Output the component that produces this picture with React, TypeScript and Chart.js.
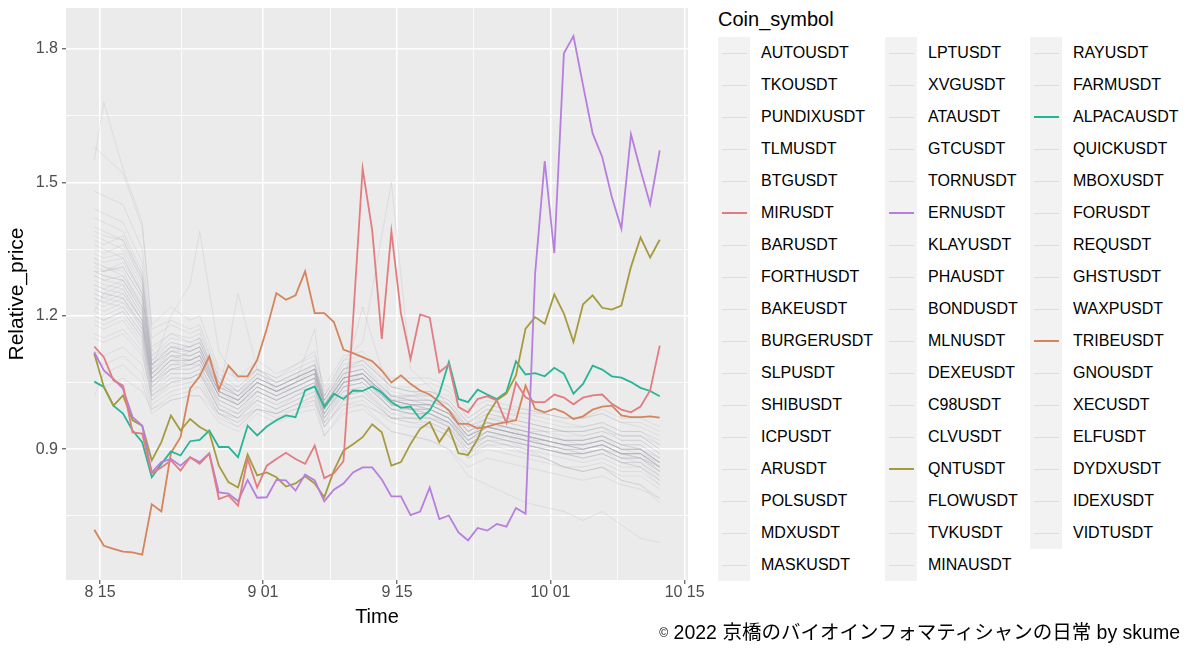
import React, { useEffect, useRef } from 'react';
import { Chart, registerables } from 'chart.js';

Chart.register(...registerables);

const FONT = '"Liberation Sans", Arial, Helvetica, sans-serif';

// time axis: days after 15 Aug (first observation is ~0.6 day before 8/15), one observation per day
const START_DAY = -0.6;
const TICK_DAYS = [0, 17, 31, 47, 61];
const TICK_LABELS = ['8 15', '9 01', '9 15', '10 01', '10 15'];
const MINOR_DAYS = [8.5, 24, 39, 54];
const Y_MAJOR = [0.9, 1.2, 1.5, 1.8];
const Y_MINOR = [0.75, 1.05, 1.35, 1.65];

// highlighted coins (daily)
const MIRUSDT = [1.131, 1.107, 1.055, 1.043, 0.938, 0.935, 0.846, 0.859, 0.875, 0.852, 0.882, 0.867, 0.890, 0.788, 0.796, 0.773, 0.878, 0.814, 0.863, 0.878, 0.892, 0.878, 0.867, 0.908, 0.835, 0.846, 0.873, 1.190, 1.531, 1.392, 1.148, 1.390, 1.205, 1.103, 1.203, 1.196, 1.073, 1.091, 0.995, 0.983, 1.013, 1.019, 1.010, 0.959, 1.050, 1.017, 1.006, 1.006, 1.023, 1.016, 1.001, 1.016, 1.021, 1.023, 1.002, 0.989, 0.983, 0.996, 1.032, 1.133];
const ERNUSDT = [1.118, 1.077, 1.058, 1.036, 0.972, 0.953, 0.848, 0.871, 0.878, 0.863, 0.882, 0.871, 0.891, 0.803, 0.800, 0.783, 0.831, 0.791, 0.792, 0.831, 0.830, 0.807, 0.843, 0.830, 0.783, 0.809, 0.823, 0.848, 0.859, 0.859, 0.832, 0.794, 0.794, 0.752, 0.760, 0.814, 0.743, 0.751, 0.713, 0.695, 0.723, 0.717, 0.732, 0.726, 0.768, 0.755, 1.295, 1.548, 1.341, 1.790, 1.829, 1.718, 1.610, 1.557, 1.467, 1.396, 1.608, 1.527, 1.451, 1.572];
const QNTUSDT = [1.115, 1.040, 0.998, 1.021, 0.965, 0.953, 0.875, 0.916, 0.976, 0.942, 0.968, 0.950, 0.938, 0.863, 0.826, 0.814, 0.888, 0.841, 0.848, 0.837, 0.816, 0.823, 0.839, 0.823, 0.792, 0.852, 0.897, 0.911, 0.927, 0.956, 0.938, 0.863, 0.871, 0.912, 0.946, 0.961, 0.916, 0.948, 0.891, 0.887, 0.923, 0.976, 1.010, 1.025, 1.066, 1.171, 1.197, 1.182, 1.248, 1.205, 1.141, 1.226, 1.246, 1.218, 1.214, 1.223, 1.310, 1.376, 1.331, 1.371];
const ALPACAUSDT = [1.052, 1.040, 0.998, 0.980, 0.942, 0.916, 0.837, 0.867, 0.895, 0.886, 0.918, 0.921, 0.942, 0.905, 0.905, 0.882, 0.953, 0.931, 0.951, 0.965, 0.976, 0.972, 1.032, 1.041, 0.995, 1.025, 1.013, 1.032, 1.031, 1.041, 1.027, 1.006, 0.993, 0.996, 0.968, 0.987, 1.025, 1.096, 1.013, 1.006, 1.034, 1.023, 1.013, 1.028, 1.098, 1.068, 1.071, 1.064, 1.083, 1.070, 1.025, 1.047, 1.088, 1.079, 1.064, 1.061, 1.051, 1.038, 1.031, 1.019];
const TRIBEUSDT = [0.719, 0.683, 0.676, 0.670, 0.668, 0.663, 0.776, 0.760, 0.892, 0.927, 1.036, 1.064, 1.109, 1.034, 1.088, 1.064, 1.064, 1.101, 1.171, 1.251, 1.236, 1.246, 1.300, 1.206, 1.206, 1.186, 1.124, 1.116, 1.107, 1.098, 1.077, 1.050, 1.066, 1.047, 1.032, 1.023, 1.006, 0.987, 0.957, 0.957, 0.947, 0.951, 0.957, 0.961, 0.965, 1.043, 0.991, 0.983, 0.991, 0.983, 0.968, 0.974, 0.989, 0.996, 0.998, 0.976, 0.972, 0.972, 0.974, 0.971];

// background coins, read at these observation indices
const GRAY_IDX = [0, 1, 3, 5, 6, 8, 10, 11, 13, 15, 17, 19, 21, 23, 24, 26, 28, 31, 33, 35, 37, 39, 41, 43, 45, 47, 49, 51, 53, 55, 57, 59];
const AUTOUSDT = [1.33, 1.31, 1.30, 1.22, 1.07, 1.12, 1.11, 1.12, 1.03, 1.01, 1.05, 1.03, 1.05, 1.07, 1.00, 1.07, 1.08, 1.02, 1.01, 1.01, 0.99, 0.94, 0.97, 0.96, 0.95, 0.94, 0.93, 0.93, 0.94, 0.92, 0.92, 0.89];
const TKOUSDT = [1.25, 1.24, 1.26, 1.19, 1.04, 1.08, 1.09, 1.09, 1.00, 0.98, 1.03, 1.01, 1.03, 1.05, 0.97, 1.04, 1.05, 0.99, 0.99, 0.98, 0.96, 0.91, 0.94, 0.93, 0.92, 0.91, 0.90, 0.89, 0.90, 0.88, 0.88, 0.85];
const PUNDIXUSDT = [1.55, 1.68, 1.53, 1.41, 1.18, 1.22, 1.19, 1.20, 1.08, 1.06, 1.10, 1.07, 1.09, 1.12, 1.03, 1.10, 1.11, 1.04, 1.03, 1.02, 1.00, 0.95, 0.97, 0.96, 0.95, 0.94, 0.92, 0.92, 0.93, 0.90, 0.90, 0.86];
const TLMUSDT = [1.20, 1.19, 1.21, 1.15, 1.02, 1.05, 1.06, 1.07, 0.99, 0.97, 1.01, 0.99, 1.02, 1.04, 0.97, 1.03, 1.04, 0.98, 0.97, 0.97, 0.95, 0.90, 0.93, 0.92, 0.91, 0.90, 0.89, 0.89, 0.90, 0.88, 0.87, 0.84];
const BTGUSDT = [1.05, 1.04, 1.06, 1.03, 0.99, 1.01, 1.02, 1.02, 0.98, 0.97, 0.99, 0.98, 0.99, 1.00, 0.96, 1.00, 1.00, 0.97, 0.97, 0.97, 0.96, 0.93, 0.95, 0.95, 0.94, 0.94, 0.94, 0.93, 0.94, 0.93, 0.93, 0.91];
const BARUSDT = [1.38, 1.37, 1.35, 1.27, 1.10, 1.14, 1.13, 1.14, 1.05, 1.02, 1.07, 1.05, 1.07, 1.09, 1.01, 1.08, 1.09, 1.03, 1.02, 1.02, 1.00, 0.95, 0.98, 0.97, 0.96, 0.95, 0.94, 0.94, 0.95, 0.93, 0.93, 0.90];
const FORTHUSDT = [1.30, 1.29, 1.28, 1.21, 1.06, 1.10, 1.12, 1.13, 1.04, 1.03, 1.06, 1.04, 1.06, 1.08, 1.01, 1.08, 1.10, 1.04, 1.04, 1.05, 1.03, 0.97, 1.00, 0.99, 0.98, 0.97, 0.96, 0.95, 0.96, 0.94, 0.94, 0.91];
const BAKEUSDT = [1.22, 1.21, 1.23, 1.17, 1.03, 1.07, 1.07, 1.08, 0.99, 0.97, 1.02, 1.00, 1.02, 1.04, 0.96, 1.03, 1.04, 0.97, 0.97, 0.96, 0.94, 0.88, 0.91, 0.90, 0.89, 0.88, 0.86, 0.86, 0.87, 0.85, 0.85, 0.82];
const BURGERUSDT = [1.35, 1.34, 1.36, 1.28, 1.09, 1.13, 1.12, 1.13, 1.03, 1.00, 1.05, 1.03, 1.05, 1.07, 0.99, 1.05, 1.06, 0.99, 0.98, 0.98, 0.96, 0.91, 0.93, 0.92, 0.91, 0.90, 0.89, 0.88, 0.89, 0.87, 0.86, 0.83];
const SLPUSDT = [1.27, 1.26, 1.25, 1.19, 1.06, 1.10, 1.09, 1.10, 1.02, 1.00, 1.03, 1.01, 1.03, 1.05, 0.98, 1.05, 1.06, 1.00, 0.99, 0.99, 0.97, 0.92, 0.95, 0.94, 0.93, 0.91, 0.90, 0.90, 0.91, 0.89, 0.89, 0.86];
const SHIBUSDT = [1.16, 1.15, 1.17, 1.12, 1.01, 1.04, 1.05, 1.05, 0.98, 0.96, 1.00, 0.98, 1.00, 1.02, 0.95, 1.01, 1.02, 0.97, 0.96, 0.96, 0.94, 0.90, 0.92, 0.92, 0.91, 0.90, 0.89, 0.89, 0.90, 0.88, 0.88, 0.86];
const ICPUSDT = [1.42, 1.41, 1.39, 1.30, 1.12, 1.16, 1.15, 1.16, 1.06, 1.03, 1.08, 1.06, 1.08, 1.10, 1.02, 1.08, 1.09, 1.02, 1.01, 1.00, 0.98, 0.92, 0.95, 0.94, 0.92, 0.91, 0.89, 0.89, 0.90, 0.87, 0.87, 0.83];
const ARUSDT = [1.29, 1.28, 1.29, 1.23, 1.08, 1.12, 1.13, 1.15, 1.05, 1.04, 1.08, 1.06, 1.09, 1.11, 1.04, 1.11, 1.12, 1.06, 1.06, 1.06, 1.04, 0.99, 1.01, 1.00, 0.99, 0.98, 0.97, 0.97, 0.98, 0.96, 0.96, 0.94];
const POLSUSDT = [1.32, 1.30, 1.31, 1.24, 1.08, 1.20, 1.27, 1.39, 1.12, 1.05, 1.08, 1.05, 1.06, 1.08, 1.00, 1.06, 1.07, 1.01, 1.00, 1.00, 0.98, 0.93, 0.95, 0.94, 0.93, 0.92, 0.91, 0.91, 0.92, 0.90, 0.90, 0.87];
const MDXUSDT = [1.24, 1.23, 1.22, 1.16, 1.04, 1.08, 1.08, 1.09, 1.01, 0.99, 1.03, 1.01, 1.03, 1.04, 0.97, 1.04, 1.05, 0.99, 0.98, 0.98, 0.95, 0.89, 0.92, 0.91, 0.90, 0.88, 0.86, 0.85, 0.86, 0.83, 0.82, 0.78];
const MASKUSDT = [1.48, 1.47, 1.45, 1.35, 1.15, 1.18, 1.16, 1.17, 1.06, 1.03, 1.07, 1.04, 1.06, 1.08, 1.00, 1.06, 1.07, 1.00, 0.99, 0.99, 0.97, 0.92, 0.94, 0.93, 0.92, 0.91, 0.90, 0.90, 0.91, 0.89, 0.88, 0.85];
const LPTUSDT = [1.26, 1.25, 1.27, 1.20, 1.07, 1.11, 1.11, 1.12, 1.03, 1.01, 1.05, 1.03, 1.05, 1.07, 1.00, 1.06, 1.07, 1.01, 1.00, 1.00, 0.98, 0.94, 0.96, 0.95, 0.94, 0.93, 0.92, 0.92, 0.93, 0.91, 0.91, 0.88];
const XVGUSDT = [1.36, 1.35, 1.33, 1.25, 1.09, 1.13, 1.12, 1.13, 1.03, 1.01, 1.06, 1.04, 1.06, 1.09, 1.01, 1.08, 1.10, 1.04, 1.03, 1.03, 1.01, 0.96, 0.98, 0.97, 0.96, 0.95, 0.94, 0.94, 0.95, 0.92, 0.92, 0.89];
const ATAUSDT = [1.18, 1.17, 1.19, 1.13, 1.01, 1.05, 1.05, 1.06, 0.98, 0.95, 0.99, 0.97, 0.99, 1.01, 0.93, 0.99, 1.00, 0.94, 0.93, 0.92, 0.90, 0.84, 0.82, 0.80, 0.78, 0.77, 0.76, 0.74, 0.76, 0.73, 0.70, 0.69];
const GTCUSDT = [1.31, 1.30, 1.32, 1.25, 1.09, 1.12, 1.11, 1.12, 1.04, 1.02, 1.06, 1.04, 1.06, 1.08, 1.01, 1.07, 1.08, 1.02, 1.02, 1.01, 0.99, 0.94, 0.96, 0.95, 0.94, 0.93, 0.92, 0.91, 0.92, 0.90, 0.90, 0.87];
const TORNUSDT = [1.21, 1.20, 1.22, 1.16, 1.04, 1.07, 1.07, 1.08, 1.00, 0.98, 1.02, 1.00, 1.02, 1.04, 0.98, 1.04, 1.06, 1.01, 1.02, 1.03, 1.02, 0.97, 1.00, 0.99, 0.99, 0.98, 0.97, 0.97, 0.98, 0.96, 0.95, 0.93];
const KLAYUSDT = [1.39, 1.38, 1.37, 1.29, 1.11, 1.15, 1.14, 1.15, 1.05, 1.02, 1.06, 1.04, 1.06, 1.08, 1.00, 1.06, 1.07, 1.00, 0.99, 0.98, 0.96, 0.90, 0.93, 0.92, 0.90, 0.89, 0.88, 0.87, 0.88, 0.86, 0.86, 0.82];
const PHAUSDT = [1.28, 1.27, 1.26, 1.19, 1.06, 1.09, 1.09, 1.10, 1.02, 1.00, 1.04, 1.02, 1.04, 1.06, 0.99, 1.05, 1.06, 1.00, 1.00, 0.99, 0.97, 0.93, 0.95, 0.94, 0.93, 0.92, 0.91, 0.91, 0.92, 0.90, 0.90, 0.87];
const BONDUSDT = [1.12, 1.11, 1.13, 1.09, 1.00, 1.03, 1.04, 1.04, 0.98, 0.96, 0.99, 0.98, 1.00, 1.01, 0.95, 1.00, 1.01, 0.96, 0.95, 0.95, 0.93, 0.89, 0.91, 0.91, 0.90, 0.90, 0.89, 0.89, 0.90, 0.89, 0.88, 0.86];
const MLNUSDT = [1.34, 1.33, 1.34, 1.26, 1.09, 1.13, 1.13, 1.14, 1.05, 1.03, 1.07, 1.05, 1.07, 1.09, 1.02, 1.09, 1.10, 1.04, 1.03, 1.03, 1.01, 0.96, 0.99, 0.98, 0.97, 0.96, 0.95, 0.95, 0.96, 0.94, 0.94, 0.92];
const DEXEUSDT = [1.23, 1.22, 1.24, 1.18, 1.05, 1.09, 1.10, 1.11, 1.03, 1.01, 1.05, 1.03, 1.05, 1.07, 0.99, 1.06, 1.07, 1.01, 1.00, 1.00, 0.98, 0.93, 0.95, 0.94, 0.93, 0.92, 0.91, 0.90, 0.91, 0.89, 0.89, 0.85];
const C98USDT = [1.30, 1.29, 1.28, 1.22, 1.07, 1.11, 1.10, 1.11, 1.03, 1.01, 1.05, 1.03, 1.05, 1.08, 1.02, 1.10, 1.14, 1.50, 1.08, 1.04, 1.00, 0.94, 0.96, 0.95, 0.93, 0.92, 0.91, 0.90, 0.91, 0.89, 0.88, 0.85];
const CLVUSDT = [1.44, 1.43, 1.41, 1.32, 1.13, 1.16, 1.14, 1.15, 1.05, 1.02, 1.06, 1.04, 1.06, 1.08, 1.00, 1.06, 1.07, 1.01, 1.00, 0.99, 0.97, 0.91, 0.94, 0.93, 0.91, 0.90, 0.89, 0.88, 0.89, 0.87, 0.86, 0.83];
const FLOWUSDT = [1.19, 1.18, 1.20, 1.14, 1.03, 1.06, 1.06, 1.07, 0.99, 0.98, 1.01, 0.99, 1.01, 1.03, 0.97, 1.02, 1.03, 0.98, 0.98, 0.98, 0.96, 0.92, 0.94, 0.93, 0.92, 0.92, 0.91, 0.91, 0.92, 0.90, 0.90, 0.88];
const TVKUSDT = [1.27, 1.26, 1.28, 1.21, 1.07, 1.11, 1.10, 1.11, 1.02, 1.00, 1.04, 1.02, 1.04, 1.06, 0.98, 1.05, 1.06, 1.00, 0.99, 0.99, 0.97, 0.91, 0.94, 0.93, 0.92, 0.91, 0.90, 0.89, 0.90, 0.88, 0.88, 0.84];
const MINAUSDT = [1.33, 1.32, 1.33, 1.25, 1.09, 1.12, 1.12, 1.13, 1.04, 1.02, 1.05, 1.03, 1.05, 1.07, 1.00, 1.06, 1.07, 1.01, 1.00, 1.00, 0.98, 0.93, 0.96, 0.95, 0.94, 0.93, 0.92, 0.92, 0.93, 0.91, 0.91, 0.88];
const RAYUSDT = [1.25, 1.24, 1.23, 1.18, 1.05, 1.08, 1.08, 1.09, 1.01, 0.99, 1.03, 1.01, 1.03, 1.05, 0.98, 1.04, 1.05, 0.99, 0.99, 0.98, 0.96, 0.91, 0.94, 0.93, 0.92, 0.91, 0.90, 0.90, 0.91, 0.89, 0.89, 0.86];
const FARMUSDT = [1.58, 1.56, 1.52, 1.40, 1.17, 1.19, 1.17, 1.18, 1.07, 1.04, 1.08, 1.05, 1.07, 1.09, 1.01, 1.07, 1.08, 1.01, 1.00, 1.00, 0.98, 0.93, 0.95, 0.94, 0.93, 0.92, 0.91, 0.91, 0.92, 0.90, 0.89, 0.86];
const QUICKUSDT = [1.29, 1.28, 1.27, 1.20, 1.06, 1.10, 1.10, 1.11, 1.02, 1.00, 1.04, 1.02, 1.04, 1.06, 0.99, 1.05, 1.07, 1.01, 1.01, 1.00, 0.98, 0.93, 0.96, 0.95, 0.94, 0.93, 0.92, 0.92, 0.93, 0.91, 0.90, 0.87];
const MBOXUSDT = [1.10, 1.09, 1.11, 1.07, 0.99, 1.02, 1.03, 1.04, 0.97, 0.95, 0.99, 0.98, 1.00, 1.02, 0.95, 1.01, 1.02, 0.97, 0.97, 0.97, 0.95, 0.91, 0.93, 0.93, 0.92, 0.91, 0.90, 0.90, 0.91, 0.89, 0.89, 0.87];
const FORUSDT = [1.37, 1.36, 1.38, 1.29, 1.11, 1.14, 1.13, 1.14, 1.04, 1.02, 1.06, 1.04, 1.06, 1.08, 1.00, 1.07, 1.08, 1.02, 1.01, 1.01, 0.99, 0.94, 0.96, 0.95, 0.94, 0.93, 0.92, 0.92, 0.93, 0.91, 0.90, 0.87];
const REQUSDT = [1.21, 1.25, 1.24, 1.17, 1.05, 1.08, 1.09, 1.10, 1.02, 1.25, 1.08, 1.03, 1.04, 1.06, 0.98, 1.04, 1.05, 0.99, 0.98, 0.98, 0.96, 0.91, 0.93, 0.92, 0.91, 0.90, 0.89, 0.88, 0.89, 0.87, 0.87, 0.84];
const GHSTUSDT = [1.30, 1.30, 1.31, 1.24, 1.08, 1.11, 1.11, 1.12, 1.03, 1.01, 1.05, 1.03, 1.05, 1.17, 1.00, 1.06, 1.07, 1.01, 1.00, 1.00, 0.98, 0.93, 0.95, 0.94, 0.93, 0.92, 0.91, 0.91, 0.92, 0.90, 0.90, 0.87];
const WAXPUSDT = [1.26, 1.25, 1.24, 1.18, 1.05, 1.09, 1.09, 1.10, 1.02, 1.00, 1.04, 1.02, 1.04, 1.06, 0.99, 1.05, 1.22, 1.01, 1.00, 0.99, 0.97, 0.92, 0.95, 0.94, 0.93, 0.92, 0.91, 0.90, 0.91, 0.89, 0.89, 0.86];
const GNOUSDT = [1.15, 1.14, 1.16, 1.11, 1.02, 1.05, 1.06, 1.07, 1.01, 0.99, 1.03, 1.01, 1.03, 1.05, 0.99, 1.05, 1.06, 1.02, 1.02, 1.02, 1.00, 0.96, 0.99, 0.98, 0.98, 0.98, 0.97, 0.97, 0.99, 0.97, 0.97, 0.95];
const XECUSDT = [1.40, 1.39, 1.37, 1.28, 1.10, 1.13, 1.12, 1.13, 1.04, 1.01, 1.05, 1.03, 1.05, 1.07, 0.99, 1.05, 1.06, 0.99, 0.98, 0.97, 0.95, 0.89, 0.92, 0.91, 0.89, 0.88, 0.86, 0.85, 0.86, 0.83, 0.82, 0.79];
const ELFUSDT = [1.24, 1.23, 1.25, 1.19, 1.06, 1.10, 1.10, 1.11, 1.03, 1.01, 1.05, 1.03, 1.05, 1.07, 1.00, 1.06, 1.07, 1.01, 1.01, 1.01, 0.99, 0.95, 0.97, 0.97, 0.96, 0.95, 0.94, 0.94, 0.95, 0.93, 0.93, 0.90];
const DYDXUSDT = [1.32, 1.31, 1.29, 1.22, 1.07, 1.10, 1.10, 1.11, 1.02, 1.00, 1.04, 1.02, 1.04, 1.06, 0.99, 1.05, 1.06, 1.00, 0.99, 0.99, 0.97, 0.92, 0.95, 0.94, 0.93, 0.92, 0.91, 0.90, 0.91, 0.89, 0.89, 0.86];
const IDEXUSDT = [1.02, 1.07, 1.09, 1.05, 0.98, 1.01, 1.02, 1.02, 0.96, 0.94, 0.98, 0.96, 0.98, 0.99, 0.93, 0.98, 0.99, 0.94, 0.93, 0.92, 0.90, 0.86, 0.88, 0.87, 0.86, 0.85, 0.84, 0.83, 0.84, 0.82, 0.81, 0.79];
const VIDTUSDT = [1.20, 1.19, 1.21, 1.15, 1.02, 1.06, 1.06, 1.07, 0.99, 0.97, 1.01, 0.99, 1.01, 1.03, 0.96, 1.02, 1.03, 0.97, 0.96, 0.95, 0.93, 0.88, 0.90, 0.89, 0.88, 0.87, 0.86, 0.85, 0.86, 0.84, 0.84, 0.81];

// legend columns (as in the reference)
const LEGEND_COL1 = ['AUTOUSDT', 'TKOUSDT', 'PUNDIXUSDT', 'TLMUSDT', 'BTGUSDT', 'MIRUSDT', 'BARUSDT', 'FORTHUSDT', 'BAKEUSDT', 'BURGERUSDT', 'SLPUSDT', 'SHIBUSDT', 'ICPUSDT', 'ARUSDT', 'POLSUSDT', 'MDXUSDT', 'MASKUSDT'];
const LEGEND_COL2 = ['LPTUSDT', 'XVGUSDT', 'ATAUSDT', 'GTCUSDT', 'TORNUSDT', 'ERNUSDT', 'KLAYUSDT', 'PHAUSDT', 'BONDUSDT', 'MLNUSDT', 'DEXEUSDT', 'C98USDT', 'CLVUSDT', 'QNTUSDT', 'FLOWUSDT', 'TVKUSDT', 'MINAUSDT'];
const LEGEND_COL3 = ['RAYUSDT', 'FARMUSDT', 'ALPACAUSDT', 'QUICKUSDT', 'MBOXUSDT', 'FORUSDT', 'REQUSDT', 'GHSTUSDT', 'WAXPUSDT', 'TRIBEUSDT', 'GNOUSDT', 'XECUSDT', 'ELFUSDT', 'DYDXUSDT', 'IDEXUSDT', 'VIDTUSDT'];

const HIGHLIGHT: Record<string, number[]> = { MIRUSDT, ERNUSDT, QNTUSDT, ALPACAUSDT, TRIBEUSDT };
const HIGHLIGHT_COLORS: Record<string, string> = {
  MIRUSDT: '#E27C80',
  ERNUSDT: '#B77EDE',
  QNTUSDT: '#A59B3E',
  ALPACAUSDT: '#27B596',
  TRIBEUSDT: '#D5845C',
};
const GRAY_SERIES: Record<string, number[]> = {
  AUTOUSDT, TKOUSDT, PUNDIXUSDT, TLMUSDT, BTGUSDT, BARUSDT, FORTHUSDT, BAKEUSDT, BURGERUSDT, SLPUSDT, SHIBUSDT, ICPUSDT, ARUSDT, POLSUSDT, MDXUSDT, MASKUSDT,
  LPTUSDT, XVGUSDT, ATAUSDT, GTCUSDT, TORNUSDT, KLAYUSDT, PHAUSDT, BONDUSDT, MLNUSDT, DEXEUSDT, C98USDT, CLVUSDT, FLOWUSDT, TVKUSDT, MINAUSDT,
  RAYUSDT, FARMUSDT, QUICKUSDT, MBOXUSDT, FORUSDT, REQUSDT, GHSTUSDT, WAXPUSDT, GNOUSDT, XECUSDT, ELFUSDT, DYDXUSDT, IDEXUSDT, VIDTUSDT,
};

const panelBg = {
  id: 'panelBg',
  beforeDraw(chart: any) {
    const { ctx, chartArea } = chart;
    if (!chartArea) return;
    ctx.save();
    ctx.fillStyle = '#EBEBEB';
    ctx.fillRect(chartArea.left, chartArea.top, chartArea.right - chartArea.left, chartArea.bottom - chartArea.top);
    ctx.restore();
  },
};

export default function App() {
  const ref = useRef<HTMLCanvasElement>(null);

  useEffect(() => {
    if (!ref.current) return;
    const datasets: any[] = [];
    Object.keys(HIGHLIGHT).forEach((name) => {
      datasets.push({
        label: name,
        data: HIGHLIGHT[name].map((v, i) => ({ x: START_DAY + i, y: v })),
        borderColor: HIGHLIGHT_COLORS[name],
        borderWidth: 1.8,
        pointRadius: 0,
        tension: 0,
        order: 0,
      });
    });
    Object.keys(GRAY_SERIES).forEach((name) => {
      datasets.push({
        label: name,
        data: GRAY_SERIES[name].map((v, k) => ({ x: START_DAY + GRAY_IDX[k], y: v })),
        borderColor: 'rgba(160,160,176,0.2)',
        borderWidth: 1,
        pointRadius: 0,
        tension: 0,
        order: 1,
      });
    });

    const xIsMajor = (v: number) => TICK_DAYS.includes(v);
    const yIsMajor = (v: number) => Y_MAJOR.some((m) => Math.abs(m - v) < 1e-9);

    const chart = new Chart(ref.current, {
      type: 'line',
      data: { datasets },
      plugins: [panelBg],
      options: {
        animation: false,
        responsive: false,
        events: [],
        layout: { padding: { top: 8, right: 22, left: 0, bottom: 0 } },
        plugins: { legend: { display: false }, tooltip: { enabled: false } },
        scales: {
          x: {
            type: 'linear',
            min: -3.55,
            max: 61.35,
            afterBuildTicks: (s: any) => {
              s.ticks = [...TICK_DAYS, ...MINOR_DAYS].sort((a, b) => a - b).map((v) => ({ value: v }));
            },
            afterFit: (s: any) => {
              s.height = 87;
              s.paddingLeft = 0;
              s.paddingRight = 0;
            },
            ticks: {
              autoSkip: false,
              maxRotation: 0,
              minRotation: 0,
              color: '#4D4D4D',
              padding: -1,
              font: { family: FONT, size: 16 },
              callback: (v: any) => {
                const i = TICK_DAYS.indexOf(Number(v));
                return i >= 0 ? TICK_LABELS[i] : '';
              },
            },
            grid: {
              color: '#FFFFFF',
              lineWidth: (c: any) => (c.tick && xIsMajor(c.tick.value) ? 1.6 : 0.8),
              tickColor: (c: any) => (c.tick && xIsMajor(c.tick.value) ? '#333333' : 'rgba(0,0,0,0)'),
              tickLength: 4,
              tickWidth: 1,
            },
            border: { display: false },
            title: { display: true, text: 'Time', color: '#000', font: { family: FONT, size: 20 }, padding: { top: 0, bottom: 38 } },
          },
          y: {
            type: 'linear',
            min: 0.606,
            max: 1.892,
            afterBuildTicks: (s: any) => {
              s.ticks = [...Y_MAJOR, ...Y_MINOR].sort((a, b) => a - b).map((v) => ({ value: v }));
            },
            afterFit: (s: any) => {
              s.width = 66;
              s.paddingTop = 0;
              s.paddingBottom = 0;
            },
            ticks: {
              autoSkip: false,
              color: '#4D4D4D',
              padding: 4,
              font: { family: FONT, size: 16 },
              callback: (v: any) => (yIsMajor(Number(v)) ? Number(v).toFixed(1) : ''),
            },
            grid: {
              color: '#FFFFFF',
              lineWidth: (c: any) => (c.tick && yIsMajor(c.tick.value) ? 1.6 : 0.8),
              tickColor: (c: any) => (c.tick && yIsMajor(c.tick.value) ? '#333333' : 'rgba(0,0,0,0)'),
              tickLength: 4,
              tickWidth: 1,
            },
            border: { display: false },
            title: { display: true, text: 'Relative_price', color: '#000', font: { family: FONT, size: 21 }, padding: { top: 5, bottom: 0 } },
          },
        },
      } as any,
    });
    return () => chart.destroy();
  }, []);

  const columns = [LEGEND_COL1, LEGEND_COL2, LEGEND_COL3];
  const colLeft = [718, 885, 1030];

  return (
    <div style={{ position: 'absolute', left: 0, top: 0, width: 1200, height: 667, background: '#FFFFFF', overflow: 'hidden', fontFamily: FONT }}>
      <canvas ref={ref} width={710} height={667} style={{ position: 'absolute', left: 0, top: 0, width: 710, height: 667, display: 'block' }} />
      <div style={{ position: 'absolute', left: 718, top: 7, fontSize: 20, lineHeight: '24px', color: '#000', whiteSpace: 'nowrap' }}>Coin_symbol</div>
      {columns.map((col, c) => (
        <div key={c} style={{ position: 'absolute', left: colLeft[c], top: 37 }}>
          {col.map((name) => {
            const color = HIGHLIGHT_COLORS[name];
            return (
              <div key={name} style={{ display: 'flex', alignItems: 'center', height: 32 }}>
                <div style={{ width: 32, height: 32, background: '#F2F2F2', position: 'relative', flex: 'none' }}>
                  <div style={{ position: 'absolute', left: 4, width: 25, top: color ? 15 : 15.5, height: color ? 1.8 : 1, background: color || '#DCDCDF' }} />
                </div>
                <span style={{ marginLeft: 11, fontSize: 16, lineHeight: '20px', color: '#000', whiteSpace: 'nowrap' }}>{name}</span>
              </div>
            );
          })}
        </div>
      ))}
      <div style={{ position: 'absolute', right: 20, top: 620, fontSize: 19.5, lineHeight: '24px', color: '#000', whiteSpace: 'nowrap', fontFamily: '"Liberation Sans", Arial, "Noto Sans CJK JP", sans-serif' }}>
        <span style={{ fontSize: 12, verticalAlign: '2px' }}>©</span> 2022 京橋のバイオインフォマティシャンの日常 by skume
      </div>
    </div>
  );
}
